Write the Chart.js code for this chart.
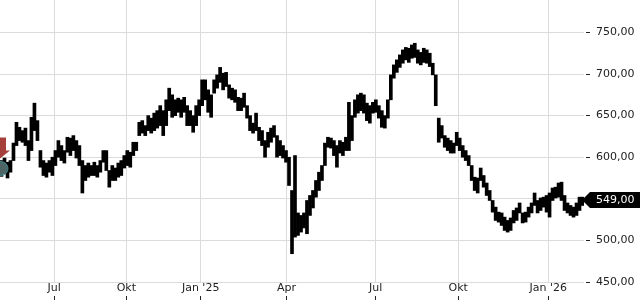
<!DOCTYPE html>
<html lang="de">
<head>
  <meta charset="UTF-8">
  <title>Kursverlauf</title>
  <script src="https://cdn.jsdelivr.net/npm/chart.js"></script>
  <style>
    body { margin: 0; background: #fff; }
    #chart { display: block; }
  </style>
</head>
<body>
  <canvas id="chart" width="640" height="300"></canvas>

  <script>
    // Hoch / Tief je Balken (von links nach rechts)
    const highs = [
      596, 599, 594, 596, 617, 642, 636, 632, 635, 620,
      648, 665, 644, 608, 596, 593, 596, 600, 608, 620,
      614, 608, 624, 623, 626, 620, 614, 596, 590, 593,
      590, 594, 590, 596, 608, 608, 584, 590, 587, 593,
      596, 602, 608, 606, 618, 618, 642, 644, 638, 650,
      647, 653, 656, 662, 656, 669, 683, 675, 669, 671,
      669, 672, 662, 656, 650, 662, 669, 693, 693, 681,
      675, 693, 699, 708, 701, 702, 687, 683, 681, 672,
      671, 677, 662, 650, 641, 653, 636, 632, 620, 630,
      635, 638, 626, 620, 614, 608, 600, 560, 602, 533,
      530, 533, 548, 554, 560, 572, 582, 590, 617, 624,
      623, 620, 614, 620, 618, 624, 666, 650, 669, 675,
      677, 675, 665, 662, 666, 669, 662, 656, 650, 669,
      699, 711, 717, 723, 729, 732, 731, 735, 737, 729,
      726, 731, 729, 725, 713, 699, 647, 638, 626, 623,
      620, 617, 630, 623, 614, 608, 602, 590, 576, 575,
      587, 578, 569, 560, 548, 540, 534, 533, 528, 524,
      527, 536, 539, 545, 533, 534, 540, 545, 557, 548,
      551, 552, 554, 557, 563, 564, 569, 570, 554, 545,
      542, 540, 545, 552, 552
    ];
    const lows = [
      577, 580, 575, 582, 596, 614, 620, 618, 614, 596,
      608, 632, 620, 588, 578, 576, 582, 578, 590, 600,
      596, 593, 606, 602, 608, 599, 590, 557, 572, 576,
      578, 578, 576, 582, 594, 584, 564, 572, 572, 576,
      578, 587, 590, 588, 602, 608, 626, 629, 626, 632,
      629, 632, 635, 638, 626, 638, 656, 648, 650, 654,
      648, 654, 638, 638, 630, 638, 650, 662, 669, 654,
      648, 677, 683, 690, 681, 685, 671, 669, 666, 656,
      656, 660, 647, 632, 629, 632, 620, 614, 600, 612,
      618, 624, 600, 602, 599, 594, 566, 484, 504, 506,
      510, 515, 508, 530, 539, 552, 560, 572, 590, 612,
      611, 602, 588, 605, 602, 608, 608, 620, 648, 653,
      656, 653, 644, 641, 653, 654, 647, 636, 635, 647,
      669, 695, 702, 708, 713, 717, 714, 719, 720, 713,
      711, 714, 713, 709, 699, 662, 618, 623, 612, 608,
      605, 605, 614, 608, 600, 596, 590, 572, 560, 557,
      572, 564, 554, 548, 534, 524, 522, 518, 512, 510,
      512, 521, 524, 533, 521, 522, 528, 533, 542, 533,
      536, 540, 534, 528, 548, 551, 552, 548, 536, 533,
      530, 528, 530, 536, 542
    ];
    const lastPrice = 549;

    // Monatsanfaenge (Position in Balken) und Beschriftung
    const monthPos = [17.6, 41.7, 66.5, 95.2, 124.9, 152.5, 182.6];
    const monthLabels = ['Jul', 'Okt', "Jan '25", 'Apr', 'Jul', 'Okt', "Jan '26"];

    const yMin = 450;
    const yMax = 789;
    const yStep = 50;

    const fmt = v => v.toFixed(2).replace('.', ',');
    const FONT = '"DejaVu Sans", sans-serif';

    // Markierung am linken Rand
    const signal = {
      id: 'signal',
      afterDatasetsDraw(chart) {
        const ctx = chart.ctx;
        const x = chart.chartArea.left;
        const top = chart.scales.y.getPixelForValue(highs[0]);
        ctx.save();
        // Kreis
        ctx.fillStyle = 'rgba(170, 225, 225, 0.45)';
        ctx.strokeStyle = 'rgba(60, 150, 155, 0.8)';
        ctx.lineWidth = 1;
        ctx.beginPath();
        ctx.arc(x + 1, top + 8, 7, 0, Math.PI * 2);
        ctx.fill();
        ctx.stroke();
        // Pfeil
        const tip = top - 2;
        ctx.fillStyle = '#a5403a';
        ctx.beginPath();
        ctx.moveTo(x - 6, tip - 21);
        ctx.lineTo(x + 6, tip - 21);
        ctx.lineTo(x + 6, tip - 8);
        ctx.lineTo(x + 10, tip - 8);
        ctx.lineTo(x, tip);
        ctx.lineTo(x - 10, tip - 8);
        ctx.lineTo(x - 6, tip - 8);
        ctx.closePath();
        ctx.fill();
        ctx.restore();
      }
    };

    // schwarzes Kursschild rechts
    const priceTag = {
      id: 'priceTag',
      afterDraw(chart) {
        const ctx = chart.ctx;
        const y = Math.round(chart.scales.y.getPixelForValue(lastPrice));
        const tipX = chart.chartArea.right - 2;
        ctx.save();
        ctx.fillStyle = '#000';
        ctx.beginPath();
        ctx.moveTo(tipX, y);
        ctx.lineTo(tipX + 8, y - 8);
        ctx.lineTo(chart.width, y - 8);
        ctx.lineTo(chart.width, y + 8);
        ctx.lineTo(tipX + 8, y + 8);
        ctx.closePath();
        ctx.fill();
        ctx.fillStyle = '#fff';
        ctx.font = '11px ' + FONT;
        ctx.textBaseline = 'middle';
        ctx.fillText(fmt(lastPrice), tipX + 14, y + 0.5);
        ctx.restore();
      }
    };

    const setMonthTicks = scale => {
      scale.ticks = monthPos.map(v => ({ value: v }));
    };

    new Chart(document.getElementById('chart'), {
      type: 'bar',
      data: {
        datasets: [{
          data: highs.map((h, i) => ({ x: i, y: [lows[i], h] })),
          backgroundColor: '#000',
          borderWidth: 0,
          barThickness: 3
        }]
      },
      options: {
        responsive: false,
        animation: false,
        layout: { padding: 0 },
        plugins: {
          legend: { display: false },
          tooltip: { enabled: false }
        },
        scales: {
          x: {
            type: 'linear',
            position: 'bottom',
            weight: 0,
            offset: false,
            min: -0.5,
            max: highs.length - 0.5,
            afterBuildTicks: setMonthTicks,
            afterFit: s => { s.height = 14; s.paddingLeft = 0; s.paddingRight = 0; },
            border: { display: false },
            grid: { color: '#dcdcdc', drawTicks: false, offset: false },
            ticks: {
              autoSkip: false,
              maxRotation: 0,
              padding: 0,
              color: '#222',
              font: { family: FONT, size: 11 },
              callback: (v, i) => monthLabels[i]
            }
          },
          x2: {
            type: 'linear',
            position: 'bottom',
            weight: 1,
            offset: false,
            min: -0.5,
            max: highs.length - 0.5,
            afterBuildTicks: setMonthTicks,
            afterFit: s => { s.height = 4; s.paddingLeft = 0; s.paddingRight = 0; },
            border: { display: false },
            grid: { drawOnChartArea: false, offset: false, tickLength: 4, tickColor: '#222' },
            ticks: { display: false }
          },
          y: {
            position: 'right',
            min: yMin,
            max: yMax,
            afterFit: s => { s.width = 56; s.paddingTop = 0; s.paddingBottom = 0; },
            border: { display: false },
            grid: {
              color: '#dcdcdc',
              tickLength: 6,
              tickColor: '#222',
              tickBorderDash: [0, 2, 4]
            },
            ticks: {
              stepSize: yStep,
              includeBounds: false,
              padding: 6,
              color: '#222',
              font: { family: FONT, size: 11 },
              callback: v => fmt(v)
            }
          }
        }
      },
      plugins: [signal, priceTag]
    });
  </script>
</body>
</html>
